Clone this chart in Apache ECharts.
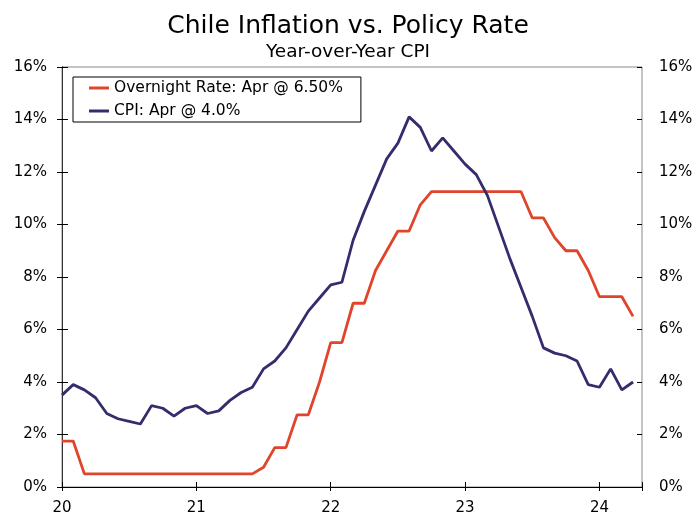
<!DOCTYPE html>
<html>
<head>
<meta charset="utf-8">
<script src="https://cdn.jsdelivr.net/npm/echarts@6/dist/echarts.min.js"></script>
<style>html,body{margin:0;padding:0;background:#fff}#c{width:696px;height:516px}</style>
</head>
<body>
<div id="c"></div>
<script>
// Months Jan 2020 .. Apr 2024
const months = [
 '2020-01','2020-02','2020-03','2020-04','2020-05','2020-06','2020-07','2020-08','2020-09','2020-10','2020-11','2020-12',
 '2021-01','2021-02','2021-03','2021-04','2021-05','2021-06','2021-07','2021-08','2021-09','2021-10','2021-11','2021-12',
 '2022-01','2022-02','2022-03','2022-04','2022-05','2022-06','2022-07','2022-08','2022-09','2022-10','2022-11','2022-12',
 '2023-01','2023-02','2023-03','2023-04','2023-05','2023-06','2023-07','2023-08','2023-09','2023-10','2023-11','2023-12',
 '2024-01','2024-02','2024-03','2024-04'
];
const overnightRate = [
 1.75,1.75,0.5,0.5,0.5,0.5,0.5,0.5,0.5,0.5,0.5,0.5,
 0.5,0.5,0.5,0.5,0.5,0.5,0.75,1.5,1.5,2.75,2.75,4.0,
 5.5,5.5,7.0,7.0,8.25,9.0,9.75,9.75,10.75,11.25,11.25,11.25,
 11.25,11.25,11.25,11.25,11.25,11.25,10.25,10.25,9.5,9.0,9.0,8.25,
 7.25,7.25,7.25,6.5
];
const cpi = [
 3.5,3.9,3.7,3.4,2.8,2.6,2.5,2.4,3.1,3.0,2.7,3.0,
 3.1,2.8,2.9,3.3,3.6,3.8,4.5,4.8,5.3,6.0,6.7,7.2,
 7.7,7.8,9.4,10.5,11.5,12.5,13.1,14.1,13.7,12.8,13.3,12.8,
 12.3,11.9,11.1,9.9,8.7,7.6,6.5,5.3,5.1,5.0,4.8,3.9,
 3.8,4.5,3.7,4.0
];
const xTickLabels = ['20','21','22','23','24'];
const seriesNames = ['Overnight Rate: Apr @ 6.50%','CPI: Apr @ 4.0%'];

const FONT = 'DejaVu Sans';
const xMax = 51.8;
const ratePts = overnightRate.map((v,i)=>[i,v]);
const cpiPts = cpi.map((v,i)=>[i,v]);
const xFmt = v => (v % 12 === 0 && v/12 < xTickLabels.length) ? xTickLabels[v/12] : '';

const baseX = {type:'value', min:0, max:xMax, interval:12, splitLine:{show:false}};
const baseY = {type:'value', min:0, max:16, interval:2, splitLine:{show:false}};

const chart = echarts.init(document.getElementById('c'));
chart.setOption({
  animation:false,
  backgroundColor:'#fff',
  title:[
    {text:'Chile Inflation vs. Policy Rate', left:'center', top:9,
     textStyle:{fontFamily:FONT, fontSize:25, fontWeight:'normal', color:'#000'}},
    {text:'Year-over-Year CPI', left:'center', top:38,
     textStyle:{fontFamily:FONT, fontSize:18.5, fontWeight:'normal', color:'#000'}}
  ],
  grid:{left:62, right:54, top:67, bottom:27, show:true, borderColor:'#888', borderWidth:1, backgroundColor:'transparent'},
  legend:{
    orient:'vertical', left:73, top:77,
    borderColor:'#000', borderWidth:1, padding:[3,18,3,16],
    icon:'rect', itemWidth:20, itemHeight:3, itemGap:7,
    textStyle:{fontFamily:FONT, fontSize:15.5, color:'#000'},
    data:seriesNames
  },
  xAxis:[
    Object.assign({}, baseX, {position:'bottom',
      axisLine:{show:true, lineStyle:{color:'#000', width:1}},
      axisTick:{show:true, inside:false, length:4, lineStyle:{color:'#000'}},
      axisLabel:{formatter:xFmt, fontFamily:FONT, fontSize:15, color:'#000', margin:14}}),
    Object.assign({}, baseX, {position:'bottom',
      axisLine:{show:false},
      axisTick:{show:true, inside:true, length:5, lineStyle:{color:'#000'}},
      axisLabel:{show:false}})
  ],
  yAxis:[
    Object.assign({}, baseY, {position:'left',
      axisLine:{show:true, lineStyle:{color:'#000', width:1}},
      axisTick:{show:true, inside:false, length:5, lineStyle:{color:'#000'}},
      axisLabel:{formatter:'{value}%', fontFamily:FONT, fontSize:15, color:'#000', margin:15}}),
    Object.assign({}, baseY, {position:'right',
      axisLine:{show:true, lineStyle:{color:'#333', width:1}},
      axisTick:{show:true, inside:false, length:6, lineStyle:{color:'#000'}},
      axisLabel:{formatter:'{value}%', fontFamily:FONT, fontSize:15, color:'#000', margin:17}}),
    Object.assign({}, baseY, {position:'left',
      axisLine:{show:false},
      axisTick:{show:true, inside:true, length:5, lineStyle:{color:'#000'}},
      axisLabel:{show:false}}),
    Object.assign({}, baseY, {position:'right',
      axisLine:{show:false},
      axisTick:{show:true, inside:true, length:5, lineStyle:{color:'#000'}},
      axisLabel:{show:false}})
  ],
  series:[
    {name:seriesNames[0], type:'line', data:ratePts, xAxisIndex:0, yAxisIndex:0,
     symbol:'none', lineStyle:{color:'#e0442b', width:2.8}, itemStyle:{color:'#e0442b'}},
    {name:seriesNames[1], type:'line', data:cpiPts, xAxisIndex:0, yAxisIndex:0,
     symbol:'none', lineStyle:{color:'#332d6e', width:2.8}, itemStyle:{color:'#332d6e'}}
  ]
});
</script>
</body>
</html>
